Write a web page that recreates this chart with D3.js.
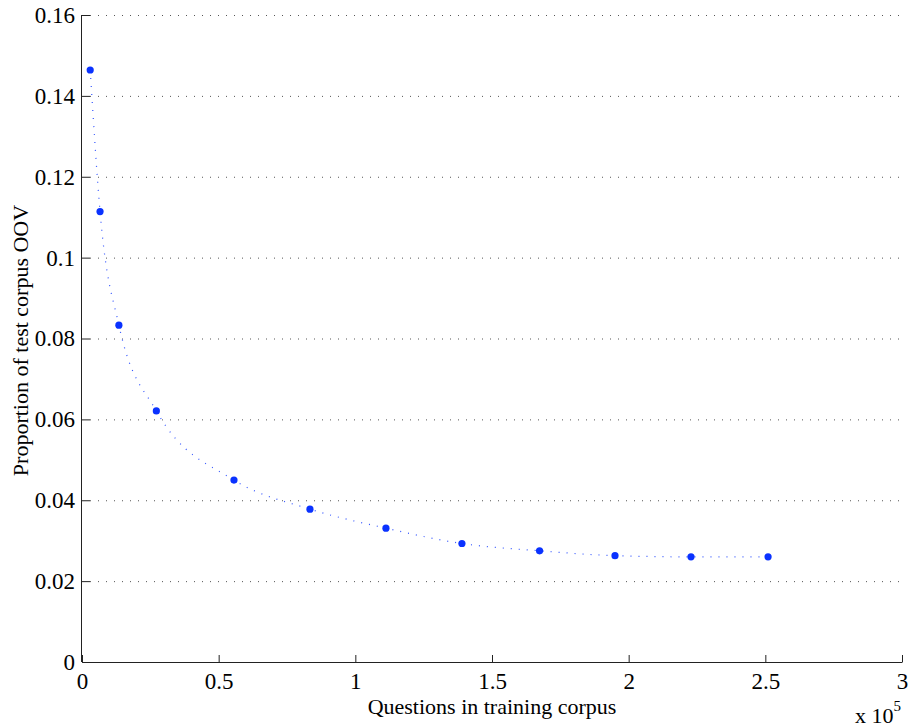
<!DOCTYPE html>
<html>
<head>
<meta charset="utf-8">
<script src="https://cdn.jsdelivr.net/npm/d3@7/dist/d3.min.js"></script>
<style>
  body { margin: 0; background: #fff; }
  svg text { font-family: "Liberation Serif", "Times New Roman", serif; fill: #000; }
</style>
</head>
<body>
<div id="chart"></div>
<script>
// Training corpus size (x 10^5 questions) against OOV proportion
const questions = [0.03, 0.066, 0.135, 0.272, 0.556, 0.834, 1.112, 1.39, 1.674, 1.95, 2.228, 2.51];
const oovRate = [0.1464, 0.1114, 0.0833, 0.0621, 0.0450, 0.0378, 0.0331, 0.0293, 0.0275, 0.0263, 0.0260, 0.0260];
const xTicks = [0, 0.5, 1, 1.5, 2, 2.5, 3];
const yTicks = [0, 0.02, 0.04, 0.06, 0.08, 0.1, 0.12, 0.14, 0.16];

function drawChart(containerId) {
    const width = 911;
    const height = 727;
    const margin = { top: 15, right: 9, bottom: 65, left: 82 };
    const innerW = width - margin.left - margin.right;
    const innerH = height - margin.top - margin.bottom;

    const svg = d3.select(`#${containerId}`)
        .append("svg")
        .attr("width", width)
        .attr("height", height);

    const g = svg.append("g")
        .attr("transform", `translate(${margin.left}, ${margin.top})`);

    const x = d3.scaleLinear().domain([0, 3]).range([0, innerW]);
    const y = d3.scaleLinear().domain([0, 0.16]).range([innerH, 0]);

    // Dotted grid lines
    g.append("g")
        .selectAll("line")
        .data(yTicks.slice(1))
        .join("line")
        .attr("x1", 8)
        .attr("x2", innerW)
        .attr("y1", d => y(d) + 0.5)
        .attr("y2", d => y(d) + 0.5)
        .attr("stroke", "#555")
        .attr("stroke-dasharray", "1,7");

    // Axes with inward ticks
    const xAxis = g.append("g")
        .attr("transform", `translate(0, ${innerH})`)
        .call(d3.axisBottom(x).tickValues(xTicks).tickSize(-7).tickPadding(11)
            .tickFormat(d => String(d)));
    const yAxis = g.append("g")
        .call(d3.axisLeft(y).tickValues(yTicks).tickSize(-8).tickPadding(7)
            .tickFormat(d => d === 0 ? "0" : String(+d.toFixed(2))));

    [xAxis, yAxis].forEach(ax => {
        ax.attr("font-family", null);
        ax.select(".domain").attr("stroke", "#222");
        ax.selectAll(".tick line").attr("stroke", "#222");
        ax.selectAll("text")
            .attr("font-size", 23)
            .attr("fill", "#000");
    });
    // plain axis lines without end caps
    xAxis.select(".domain").attr("d", `M0.5,0.5H${innerW + 0.5}`);
    yAxis.select(".domain").attr("d", `M-0.5,0H-0.5V${innerH}`);

    // Fitted dotted curve
    const pts = questions.map((q, i) => [x(q), y(oovRate[i])]);
    g.append("path")
        .attr("d", d3.line().curve(d3.curveMonotoneX)(pts))
        .attr("fill", "none")
        .attr("stroke", "#3355ff")
        .attr("stroke-width", 1.2)
        .attr("stroke-dasharray", "1,7");

    g.append("g")
        .selectAll("circle")
        .data(pts)
        .join("circle")
        .attr("cx", d => d[0])
        .attr("cy", d => d[1])
        .attr("r", 3.6)
        .attr("fill", "#0a32ff");

    // Labels
    svg.append("text")
        .attr("x", margin.left + x(1.5))
        .attr("y", 714)
        .attr("text-anchor", "middle")
        .attr("font-size", 22)
        .text("Questions in training corpus");

    svg.append("text")
        .attr("transform", `translate(28, ${margin.top + innerH / 2 + 2}) rotate(-90)`)
        .attr("text-anchor", "middle")
        .attr("font-size", 22)
        .text("Proportion of test corpus OOV");

    const mult = svg.append("text")
        .attr("x", 855)
        .attr("y", 723)
        .attr("font-size", 22);
    mult.append("tspan").text("x 10");
    mult.append("tspan").attr("dy", -12).attr("font-size", 15).text("5");
}

drawChart("chart");
</script>
</body>
</html>
